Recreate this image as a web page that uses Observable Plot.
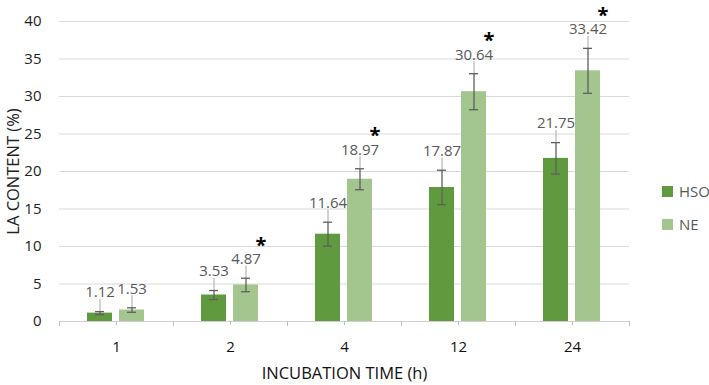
<!DOCTYPE html>
<html>
<head>
<meta charset="utf-8">
<script src="https://cdn.jsdelivr.net/npm/d3@7"></script>
<script src="https://cdn.jsdelivr.net/npm/@observablehq/plot@0.6"></script>
<style>
  html, body { margin: 0; padding: 0; background: #fff; }
  #wrap { position: relative; width: 709px; height: 385px; font-family: "Open Sans", sans-serif; }
  #legend { position: absolute; left: 662px; top: 181px; font-size: 15px; color: #595959; }
  .item { display: flex; align-items: center; height: 20px; margin-bottom: 13px; }
  .sw { width: 11px; height: 11px; margin-right: 6px; }
  #wrap svg [aria-label="y-axis label"], #wrap svg [aria-label="y-axis label"] text,
  #wrap svg [aria-label="fx-axis label"], #wrap svg [aria-label="fx-axis label"] text { font-size: 16.5px !important; }
</style>
</head>
<body>
<div id="wrap"><div id="legend"></div></div>
<script>
const categories = ["1", "2", "4", "12", "24"];
const series = ["HSO", "NE"];
const hsoValues = [1.12, 3.53, 11.64, 17.87, 21.75];
const neValues = [1.53, 4.87, 18.97, 30.64, 33.42];
const hsoErrors = [0.2, 0.6, 1.6, 2.3, 2.1];
const neErrors = [0.3, 0.9, 1.4, 2.4, 3.0];
const neSignificant = [false, true, true, true, true];
const yTicks = [0, 5, 10, 15, 20, 25, 30, 35, 40];
const colors = ["#609a3e", "#a3c58e"];

const data = [];
categories.forEach((c, i) => {
  data.push({time: c, series: "HSO", value: hsoValues[i], err: hsoErrors[i], sig: false});
  data.push({time: c, series: "NE", value: neValues[i], err: neErrors[i], sig: neSignificant[i]});
});
const hi = d => d.value + d.err;
const lo = d => d.value - d.err;

const chart = Plot.plot({
  width: 709,
  height: 385,
  marginTop: 21,
  marginBottom: 64,
  marginLeft: 57,
  marginRight: 79,
  style: {fontFamily: "'Open Sans', sans-serif", fontSize: "15px", background: "transparent"},
  fx: {domain: categories, padding: 0, label: null, axis: null},
  x: {domain: series, paddingInner: 0.212, paddingOuter: 0.84, axis: null},
  y: {domain: [0, 40], axis: null},
  color: {domain: series, range: colors},
  marks: [
    Plot.ruleY(yTicks.filter(d => d > 0), {stroke: "#d9d9d9", strokeWidth: 1}),
    Plot.ruleY([0], {stroke: "#d0d0d0", strokeWidth: 1}),
    Plot.frame({anchor: "left", stroke: "#bfbfbf", insetTop: 300, insetBottom: -4}),
    Plot.frame({anchor: "right", stroke: "#bfbfbf", insetTop: 300, insetBottom: -4}),
    Plot.axisY({ticks: yTicks, tickSize: 0, tickPadding: 18, fill: "#222", fontSize: 15,
      label: "LA CONTENT (%)", labelAnchor: "center", labelArrow: "none", labelOffset: 52}),
    Plot.axisFx({anchor: "bottom", tickSize: 4, tickPadding: 16, fill: "#111", stroke: "#bfbfbf", fontSize: 15,
      label: "INCUBATION TIME (h)", labelAnchor: "center", labelArrow: "none", labelOffset: 57}),
    Plot.barY(data, {fx: "time", x: "series", y: "value", fill: "series"}),
    Plot.ruleX(data, {fx: "time", x: "series", y1: hi, y2: hi, insetTop: -12, stroke: "#a6a6a6", strokeWidth: 1}),
    Plot.ruleX(data, {fx: "time", x: "series", y1: lo, y2: hi, stroke: "#5f5f5f", strokeWidth: 1.3}),
    Plot.tickY(data, {fx: "time", x: "series", y: hi, stroke: "#5f5f5f", strokeWidth: 1.3, insetLeft: 8, insetRight: 8}),
    Plot.tickY(data, {fx: "time", x: "series", y: lo, stroke: "#5f5f5f", strokeWidth: 1.3, insetLeft: 8, insetRight: 8}),
    Plot.text(data, {fx: "time", x: "series", y: hi, text: d => d.value.toFixed(2), dy: -19, fill: "#595959", fontSize: 15}),
    Plot.text(data.filter(d => d.sig), {fx: "time", x: "series", y: hi, text: () => "*", dy: -33, dx: 15, fill: "#000", fontSize: 20, fontWeight: "bold"})
  ]
});
document.getElementById("wrap").prepend(chart);

const legend = document.getElementById("legend");
series.forEach((s, i) => {
  const item = document.createElement("div");
  item.className = "item";
  const sw = document.createElement("span");
  sw.className = "sw";
  sw.style.background = colors[i];
  const label = document.createElement("span");
  label.textContent = s;
  item.append(sw, label);
  legend.append(item);
});
</script>
</body>
</html>
